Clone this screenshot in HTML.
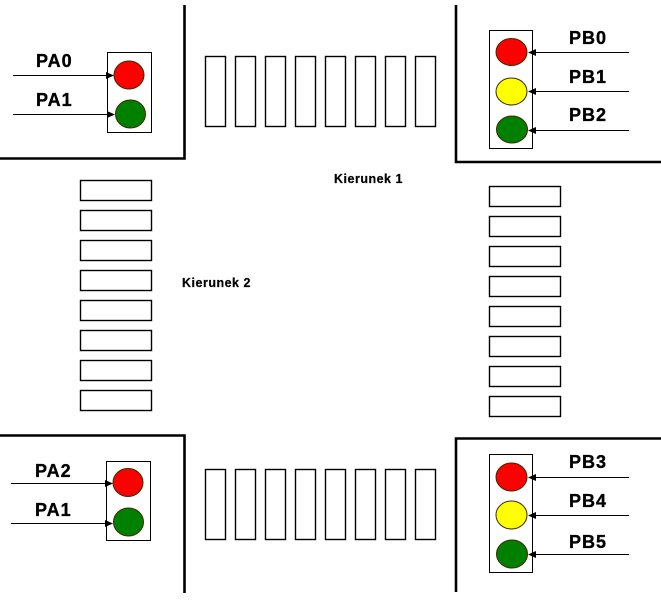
<!DOCTYPE html>
<html>
<head>
<meta charset="utf-8">
<style>
html,body{margin:0;padding:0;background:#fff;}
svg{display:block;}
.lbl{font-family:"Liberation Sans",Arial,sans-serif;font-weight:bold;font-size:18px;letter-spacing:1px;fill:#000;stroke:#000;stroke-width:0.35;}
.k{font-family:"Liberation Sans",Arial,sans-serif;font-weight:bold;font-size:12.5px;letter-spacing:0.5px;fill:#000;stroke:#000;stroke-width:0.2;}
</style>
</head>
<body>
<svg width="661" height="604" viewBox="0 0 661 604" xmlns="http://www.w3.org/2000/svg">
<rect width="661" height="604" fill="#fff"/>
<!-- corners -->
<g stroke="#000" stroke-width="2.6" fill="none">
<polyline points="184.5,5 184.5,158.5 0,158.5"/>
<polyline points="456,5 456,162 661,162"/>
<polyline points="0,435.5 184.5,435.5 184.5,593"/>
<polyline points="661,438.5 456,438.5 456,592"/>
</g>
<!-- crosswalks -->
<g stroke="#000" stroke-width="1.4" fill="#fff">
<rect x="205.5" y="56.5" width="20" height="70"/>
<rect x="235.5" y="56.5" width="20" height="70"/>
<rect x="265.5" y="56.5" width="20" height="70"/>
<rect x="295.5" y="56.5" width="20" height="70"/>
<rect x="325.5" y="56.5" width="20" height="70"/>
<rect x="355.5" y="56.5" width="20" height="70"/>
<rect x="385.5" y="56.5" width="20" height="70"/>
<rect x="415.5" y="56.5" width="20" height="70"/>

<rect x="205.5" y="469.5" width="20" height="70"/>
<rect x="235.5" y="469.5" width="20" height="70"/>
<rect x="265.5" y="469.5" width="20" height="70"/>
<rect x="295.5" y="469.5" width="20" height="70"/>
<rect x="325.5" y="469.5" width="20" height="70"/>
<rect x="355.5" y="469.5" width="20" height="70"/>
<rect x="385.5" y="469.5" width="20" height="70"/>
<rect x="415.5" y="469.5" width="20" height="70"/>

<rect x="80.5" y="180.5" width="71" height="20"/>
<rect x="80.5" y="210.5" width="71" height="20"/>
<rect x="80.5" y="240.5" width="71" height="20"/>
<rect x="80.5" y="270.5" width="71" height="20"/>
<rect x="80.5" y="300.5" width="71" height="20"/>
<rect x="80.5" y="330.5" width="71" height="20"/>
<rect x="80.5" y="360.5" width="71" height="20"/>
<rect x="80.5" y="390.5" width="71" height="20"/>

<rect x="489.5" y="186.5" width="71" height="20"/>
<rect x="489.5" y="216.5" width="71" height="20"/>
<rect x="489.5" y="246.5" width="71" height="20"/>
<rect x="489.5" y="276.5" width="71" height="20"/>
<rect x="489.5" y="306.5" width="71" height="20"/>
<rect x="489.5" y="336.5" width="71" height="20"/>
<rect x="489.5" y="366.5" width="71" height="20"/>
<rect x="489.5" y="396.5" width="71" height="20"/>
</g>
<!-- traffic light boxes -->
<g stroke="#000" stroke-width="1" fill="#fff">
<rect x="107.5" y="52.5" width="44" height="80"/>
<rect x="489.5" y="30.5" width="43" height="118"/>
<rect x="106.5" y="461.5" width="44" height="79"/>
<rect x="489.5" y="454.5" width="43" height="118"/>
</g>
<!-- lights -->
<g stroke="#3a2a00" stroke-width="1">
<ellipse cx="129" cy="75" rx="15" ry="14" fill="#ff0000"/>
<ellipse cx="130.5" cy="114" rx="15" ry="14" fill="#008000"/>
<ellipse cx="511.5" cy="52" rx="15.5" ry="13.5" fill="#ff0000"/>
<ellipse cx="511.5" cy="91.5" rx="15.5" ry="13.5" fill="#ffff00"/>
<ellipse cx="512" cy="129.5" rx="15.5" ry="13.5" fill="#008000"/>
<ellipse cx="128" cy="482.5" rx="15" ry="14" fill="#ff0000"/>
<ellipse cx="128.5" cy="522" rx="15" ry="14" fill="#008000"/>
<ellipse cx="511.5" cy="477" rx="15.5" ry="14" fill="#ff0000"/>
<ellipse cx="511.5" cy="515" rx="15.5" ry="14" fill="#ffff00"/>
<ellipse cx="512" cy="554" rx="15.5" ry="14" fill="#008000"/>
</g>
<!-- arrows -->
<g stroke="#000" stroke-width="1">
<line x1="13" y1="75.5" x2="106" y2="75.5"/>
<line x1="13" y1="114.5" x2="107" y2="114.5"/>
<line x1="11" y1="483.5" x2="105" y2="483.5"/>
<line x1="11" y1="523.5" x2="105" y2="523.5"/>
<line x1="629" y1="52.5" x2="535" y2="52.5"/>
<line x1="629" y1="91.5" x2="535" y2="91.5"/>
<line x1="629" y1="130.5" x2="535" y2="130.5"/>
<line x1="629" y1="477.5" x2="535" y2="477.5"/>
<line x1="629" y1="515.5" x2="535" y2="515.5"/>
<line x1="629" y1="554.5" x2="535" y2="554.5"/>
</g>
<g fill="#000">
<polygon points="114,75.5 106,72 106,79"/>
<polygon points="115,114.5 107,111 107,118"/>
<polygon points="113,483.5 105,480 105,487"/>
<polygon points="113,523.5 105,520 105,527"/>
<polygon points="528,52.5 536,49 536,56"/>
<polygon points="528,91.5 536,88 536,95"/>
<polygon points="528,130.5 536,127 536,134"/>
<polygon points="528,477.5 536,474 536,481"/>
<polygon points="528,515.5 536,512 536,519"/>
<polygon points="528,554.5 536,551 536,558"/>
</g>
<!-- labels -->
<text class="lbl" x="36" y="67">PA0</text>
<text class="lbl" x="36" y="106">PA1</text>
<text class="lbl" x="35" y="477">PA2</text>
<text class="lbl" x="35" y="516">PA1</text>
<text class="lbl" x="569" y="44">PB0</text>
<text class="lbl" x="569" y="83">PB1</text>
<text class="lbl" x="569" y="121">PB2</text>
<text class="lbl" x="569" y="468">PB3</text>
<text class="lbl" x="569" y="507">PB4</text>
<text class="lbl" x="569" y="548">PB5</text>
<text class="k" x="334" y="183">Kierunek 1</text>
<text class="k" x="182" y="287">Kierunek 2</text>
</svg>
</body>
</html>
